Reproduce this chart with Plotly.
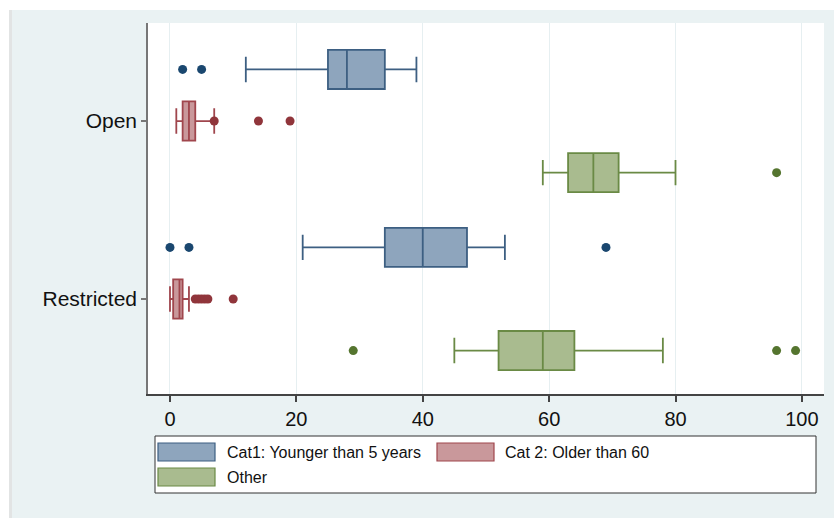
import plotly.graph_objects as go

# ---------------- data ----------------
groups = ["Open", "Restricted"]
series_names = ["Cat1: Younger than 5 years", "Cat 2: Older than 60", "Other"]

cat1_q1 = [25, 34]
cat1_median = [28, 40]
cat1_q3 = [34, 47]
cat1_lower = [12, 21]
cat1_upper = [39, 53]
cat1_outliers = [[2, 5], [0, 3, 69]]

cat2_q1 = [2, 0.5]
cat2_median = [3, 1.5]
cat2_q3 = [4, 2]
cat2_lower = [1, 0]
cat2_upper = [7, 3]
cat2_outliers = [[7, 14, 19], [4, 4.5, 5, 5.5, 6, 10]]

other_q1 = [63, 52]
other_median = [67, 59]
other_q3 = [71, 64]
other_lower = [59, 45]
other_upper = [80, 78]
other_outliers = [[96], [29, 96, 99]]

x_ticks = [0, 20, 40, 60, 80, 100]

# ---------------- style ----------------
line_colors = ["#3d5f82", "#a0464d", "#6a8a45"]
fill_colors = ["#8ea5bd", "#c9989b", "#a9bb8f"]
dot_colors = ["#1a476f", "#90353b", "#55752f"]
offsets = [-0.29, 0.0, 0.29]
box_width = 0.22
FONT = "Liberation Sans, Arial, sans-serif"

stats = [
    (cat1_q1, cat1_median, cat1_q3, cat1_lower, cat1_upper, cat1_outliers),
    (cat2_q1, cat2_median, cat2_q3, cat2_lower, cat2_upper, cat2_outliers),
    (other_q1, other_median, other_q3, other_lower, other_upper, other_outliers),
]

fig = go.Figure()
for k, (q1, med, q3, lo, up, outs) in enumerate(stats):
    pos = [g + offsets[k] for g in range(len(groups))]
    fig.add_trace(go.Box(
        name=series_names[k], orientation="h", y=pos,
        q1=q1, median=med, q3=q3, lowerfence=lo, upperfence=up,
        width=box_width, whiskerwidth=0.65, boxpoints=False,
        line=dict(color=line_colors[k], width=1.8),
        fillcolor=fill_colors[k], showlegend=False, hoverinfo="skip",
    ))
    ox, oy = [], []
    for g, vals in enumerate(outs):
        for v in vals:
            ox.append(v)
            oy.append(g + offsets[k])
    fig.add_trace(go.Scatter(
        x=ox, y=oy, mode="markers", showlegend=False,
        marker=dict(color=dot_colors[k], size=9, line=dict(width=0)),
    ))

# plot area pixel geometry
W, H = 834, 518
L, R, T, B = 148, 824, 23, 394


def px(x):
    return (x - L) / (R - L)


def py(y):
    return (B - y) / (B - T)


shapes = []
annotations = []
# outer white padding strips
shapes.append(dict(type="rect", xref="paper", yref="paper", x0=px(0), x1=px(W), y0=py(10), y1=py(0),
                   fillcolor="white", line=dict(width=0), layer="below"))
shapes.append(dict(type="rect", xref="paper", yref="paper", x0=px(0), x1=px(9), y0=py(H), y1=py(0),
                   fillcolor="white", line=dict(width=0), layer="below"))
shapes.append(dict(type="rect", xref="paper", yref="paper", x0=px(9), x1=px(12), y0=py(H), y1=py(10),
                   fillcolor="#e2e4e4", line=dict(width=0), layer="below"))

# legend box
shapes.append(dict(type="rect", xref="paper", yref="paper", x0=px(155), x1=px(816), y0=py(493), y1=py(436),
                   fillcolor="white", line=dict(color="#333333", width=1)))
legend_pos = [(158, 443, 225), (437, 443, 503), (158, 468, 225)]
for k, (sx, sy, tx) in enumerate(legend_pos):
    shapes.append(dict(type="rect", xref="paper", yref="paper", x0=px(sx), x1=px(sx + 57),
                       y0=py(sy + 18), y1=py(sy), fillcolor=fill_colors[k],
                       line=dict(color=line_colors[k], width=1.2)))
    annotations.append(dict(xref="paper", yref="paper", x=px(tx), y=py(sy + 9), text=series_names[k],
                            showarrow=False, xanchor="left", yanchor="middle",
                            font=dict(family=FONT, size=16, color="#111111")))

fig.update_layout(
    width=W, height=H,
    margin=dict(l=L, r=W - R, t=T, b=H - B),
    paper_bgcolor="#eaf2f3", plot_bgcolor="white",
    showlegend=False,
    shapes=shapes, annotations=annotations,
    font=dict(family=FONT, size=16, color="#111111"),
)
fig.update_xaxes(
    range=[-3.48, 103.5], tickvals=x_ticks, ticktext=[str(t) for t in x_ticks],
    showgrid=True, gridcolor="#e6eff1", gridwidth=1, zeroline=False,
    showline=True, linecolor="#444444", linewidth=1.5,
    ticks="outside", ticklen=6, tickcolor="#444444", tickwidth=1.5,
    tickfont=dict(family=FONT, size=20, color="#111111"),
)
fig.update_yaxes(
    range=[1.534, -0.551], tickvals=list(range(len(groups))), ticktext=groups,
    showgrid=False, zeroline=False,
    showline=True, linecolor="#777777", linewidth=1.5,
    ticks="outside", ticklen=5, tickcolor="#777777", tickwidth=1.5,
    tickfont=dict(family=FONT, size=21, color="#111111"),
)

fig.write_html("out.html", config={"displayModeBar": False},
               post_script="document.body.style.margin='0';document.body.style.padding='0';")
